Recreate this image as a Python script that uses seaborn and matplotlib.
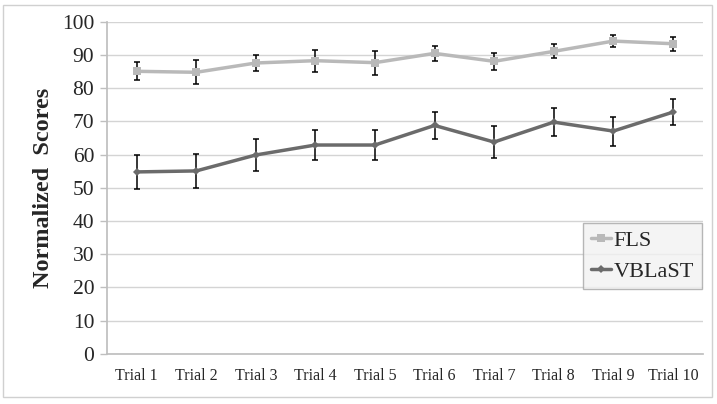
import numpy as np
import pandas as pd
import matplotlib
matplotlib.use("Agg")
import matplotlib.pyplot as plt
import seaborn as sns
from matplotlib.patches import Rectangle

sns.set_theme(style="white")
plt.rcParams['font.family'] = ['Liberation Serif', 'DejaVu Serif']

# Data
trials = ['Trial 1', 'Trial 2', 'Trial 3', 'Trial 4', 'Trial 5',
          'Trial 6', 'Trial 7', 'Trial 8', 'Trial 9', 'Trial 10']
fls_mean = [85.1, 84.8, 87.6, 88.3, 87.7, 90.5, 88.1, 91.1, 94.2, 93.4]
fls_err = [2.7, 3.6, 2.4, 3.3, 3.6, 2.2, 2.6, 2.1, 1.9, 2.1]
vblast_mean = [54.8, 55.1, 59.9, 62.9, 62.9, 68.8, 63.8, 69.8, 67.1, 72.8]
vblast_err = [5.0, 5.1, 4.7, 4.5, 4.5, 4.1, 4.8, 4.2, 4.35, 3.9]

pos = np.arange(len(trials))
df = pd.DataFrame({
    'pos': np.concatenate([pos, pos]),
    'score': fls_mean + vblast_mean,
    'err': fls_err + vblast_err,
    'group': ['FLS'] * len(trials) + ['VBLaST'] * len(trials),
})

colors = {'FLS': '#b9b9b9', 'VBLaST': '#6b6b6b'}
markers = {'FLS': 's', 'VBLaST': 'D'}
msizes = {'FLS': 6, 'VBLaST': 4}

fig = plt.figure(figsize=(7.17, 4.04), dpi=100)
ax = fig.add_axes([0.149, 0.124, 0.831, 0.822])

for g in ['FLS', 'VBLaST']:
    sub = df[df['group'] == g]
    ax.errorbar(sub['pos'], sub['score'], yerr=sub['err'], fmt='none',
                ecolor='black', elinewidth=1.1, capsize=2, capthick=1.1, zorder=2)
    sns.lineplot(data=sub, x='pos', y='score', color=colors[g], linewidth=2.5,
                 marker=markers[g], markersize=msizes[g], markeredgewidth=0,
                 label=g, ax=ax, zorder=3)

ax.set_xlim(-0.5, len(trials) - 0.5)
ax.set_ylim(0, 100)
ax.set_yticks(range(0, 101, 10))
ax.set_xticks(pos)
ax.set_xticklabels(trials, fontsize=11.5)
ax.set_xticks(np.arange(-0.5, len(trials), 1.0), minor=True)
ax.tick_params(axis='x', which='major', length=0, pad=10)
ax.tick_params(axis='x', which='minor', length=5, color='#bfbfbf', width=1, direction='out')
ax.tick_params(axis='y', labelsize=15.5, length=5, color='#bfbfbf', width=1, direction='out', pad=4)
ax.tick_params(axis='y', which='major', left=True)

ax.yaxis.grid(True, color='#d4d4d4', linewidth=1)
ax.xaxis.grid(False)
ax.set_axisbelow(True)
for s in ['top', 'right']:
    ax.spines[s].set_visible(False)
ax.spines['left'].set_color('#bfbfbf')
ax.spines['bottom'].set_color('#bfbfbf')

ax.set_xlabel('')
ax.set_ylabel('Normalized  Scores', fontsize=17.5, fontweight='bold', labelpad=6)

leg = ax.legend(loc='upper left', bbox_to_anchor=(0.80, 0.395), fontsize=16,
                frameon=True, fancybox=False, handlelength=0.9, handletextpad=0.1,
                borderpad=0.35, labelspacing=0.45, borderaxespad=0)
leg.get_frame().set_facecolor('#f2f2f2')
leg.get_frame().set_edgecolor('#a6a6a6')
leg.get_frame().set_linewidth(1)

fig.patches.append(Rectangle((3 / 717, 1 - 397 / 404), 709 / 717, 392 / 404,
                             transform=fig.transFigure, fill=False,
                             edgecolor='#d0d0d0', linewidth=1))

fig.savefig('out.png', dpi=100)
